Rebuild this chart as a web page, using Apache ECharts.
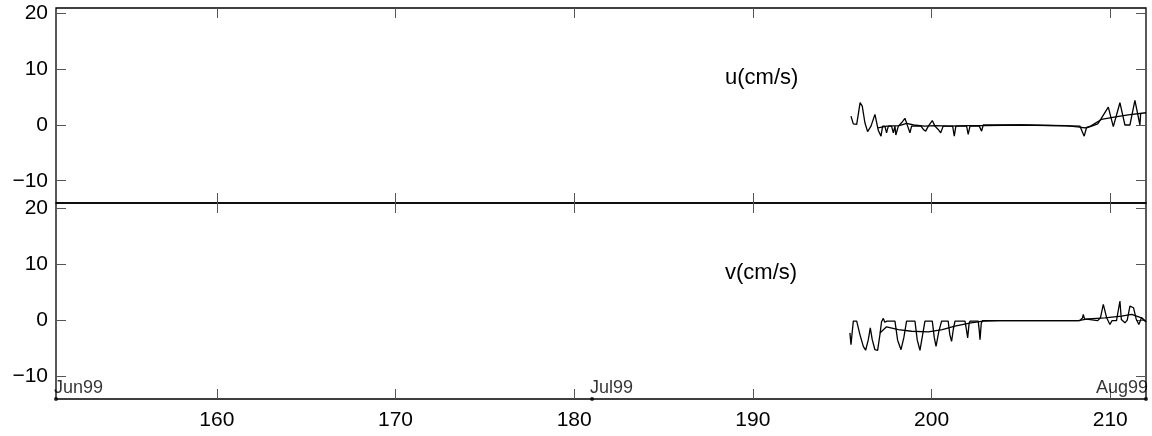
<!DOCTYPE html>
<html>
<head>
<meta charset="utf-8">
<script src="https://cdn.jsdelivr.net/npm/echarts@6/dist/echarts.min.js"></script>
<style>
html,body{margin:0;padding:0;background:#fff;}
#chart{width:1152px;height:436px;}
</style>
</head>
<body>
<div id="chart"></div>
<script>
// ---- data (yearday 1999, value in cm/s) ----
const xTicks = [160, 170, 180, 190, 200, 210];
const yTicks = [-10, 0, 10, 20];
const dateMarks = [[151, 'Jun99'], [181, 'Jul99'], [212, 'Aug99']];
const panelTitles = ['u(cm/s)', 'v(cm/s)'];

const uRaw = [[195.49,1.6],[195.62,0.2],[195.81,0.1],[196.0,4.0],[196.12,3.4],[196.27,0.4],[196.42,-1.2],[196.61,-0.2],[196.83,1.9],[197.02,-1.0],[197.17,-2.0],[197.26,-0.2],[197.39,-0.2],[197.48,-1.4],[197.58,-0.2],[197.76,-0.2],[197.86,-1.4],[197.95,-0.2],[198.0,-1.8],[198.14,-0.2],[198.32,0.4],[198.51,1.2],[198.66,-0.2],[198.79,-1.4],[198.88,-0.2],[199.41,-0.2],[199.54,-0.8],[199.67,-1.1],[199.82,-0.2],[200.04,0.8],[200.19,-0.2],[200.37,-0.8],[200.51,-1.4],[200.65,-0.2],[201.18,-0.2],[201.27,-2.0],[201.36,-0.2],[201.96,-0.2],[202.05,-1.7],[202.15,-0.2],[202.67,-0.2],[202.8,-1.1],[202.89,0.0],[205.0,0.0],[208.3,-0.2],[208.54,-2.0],[208.67,-0.5],[208.96,-0.2],[209.3,0.2],[209.5,1.2],[209.89,3.2],[210.17,-0.3],[210.54,4.0],[210.82,0.0],[211.1,0.0],[211.38,4.4],[211.66,0.0],[211.7,2.0]];
const uSmooth = [[197.0,-0.5],[197.5,-0.2],[198.2,-0.1],[198.6,0.3],[199.0,0.0],[199.6,-0.2],[200.2,-0.1],[201.0,-0.2],[202.0,-0.1],[203.0,-0.1],[205.0,0.0],[207.5,-0.1],[208.3,-0.4],[208.6,-0.5],[208.9,-0.2],[209.5,1.0],[210.3,1.45],[211.0,1.8],[212.0,2.2]];

const vRaw = [[195.43,-2.2],[195.49,-4.3],[195.62,-0.1],[195.81,-0.1],[195.99,-2.5],[196.18,-4.6],[196.31,-5.3],[196.46,-3.4],[196.57,-1.3],[196.68,-3.4],[196.83,-5.2],[196.98,-5.3],[197.11,-2.5],[197.2,-0.2],[197.3,0.4],[197.38,-0.3],[197.5,-0.1],[197.95,-0.1],[198.1,-3.5],[198.29,-5.2],[198.45,-3.0],[198.6,-0.1],[199.07,-0.1],[199.2,-3.5],[199.35,-5.3],[199.5,-2.5],[199.63,-0.1],[200.04,-0.1],[200.15,-3.0],[200.25,-4.6],[200.4,-2.0],[200.56,-0.1],[200.93,-0.1],[201.02,-2.5],[201.12,-3.7],[201.22,-1.5],[201.31,-0.1],[201.87,-0.1],[201.96,-1.8],[202.02,-3.1],[202.1,-0.5],[202.15,-0.1],[202.61,-0.1],[202.67,-1.8],[202.71,-3.4],[202.78,-0.5],[202.85,0.0],[208.3,0.0],[208.45,0.5],[208.49,1.1],[208.56,0.3],[208.65,0.0],[209.3,0.0],[209.45,0.5],[209.61,2.9],[209.8,0.5],[209.98,-0.7],[210.1,0.0],[210.35,0.0],[210.54,3.5],[210.62,0.2],[210.82,-0.4],[210.95,0.1],[211.1,2.6],[211.3,2.3],[211.45,0.3],[211.6,-0.7],[211.75,0.5],[212.0,-0.2]];
const vSmooth = [[197.11,-2.2],[197.48,-1.1],[198.14,-1.6],[198.88,-1.9],[199.82,-2.0],[200.6,-1.6],[201.3,-1.0],[202.2,-0.4],[202.9,-0.1],[203.8,0.0],[208.2,0.0],[208.77,0.3],[209.7,0.5],[210.63,0.8],[211.2,1.1],[211.75,0.5],[212.0,-0.2]];

// ---- chart ----
const FONT = 'Liberation Sans, Arial, Helvetica, sans-serif';
const XMIN = 151, XMAX = 212, YMIN = -14, YMAX = 21;
const tickStyle = {color: '#555', width: 1};
const fmt = v => String(v).replace('-', '\u2212');

function xAx(gi, pos, labels) {
  return {
    type: 'value', gridIndex: gi, position: pos, min: XMIN, max: XMAX,
    axisLine: {show: false, onZero: false}, splitLine: {show: false},
    axisTick: {show: true, inside: true, length: 10, lineStyle: tickStyle, customValues: xTicks},
    axisLabel: labels ? {show: true, customValues: xTicks, margin: 11, fontSize: 21, fontFamily: FONT, color: '#000'} : {show: false}
  };
}
function yAx(gi, pos, labels) {
  return {
    type: 'value', gridIndex: gi, position: pos, min: YMIN, max: YMAX,
    axisLine: {show: false, onZero: false}, splitLine: {show: false},
    axisTick: {show: true, inside: true, length: 10, lineStyle: tickStyle, customValues: yTicks},
    axisLabel: labels ? {show: true, customValues: yTicks, margin: 8, fontSize: 21, fontFamily: FONT, color: '#000', formatter: fmt, padding: [5, 0, 0, 0]} : {show: false}
  };
}
function line(data, xi, yi) {
  return {type: 'line', data: data, xAxisIndex: xi, yAxisIndex: yi, showSymbol: false, symbol: 'none',
    lineStyle: {color: '#000', width: 1.3}, animation: false, z: 3};
}

const chart = echarts.init(document.getElementById('chart'), null, {renderer: 'canvas'});
chart.setOption({
  animation: false,
  backgroundColor: '#fff',
  title: [
    {text: panelTitles[0], left: 725, top: 67, padding: 0, textStyle: {fontSize: 22, fontWeight: 'normal', fontFamily: FONT, color: '#000'}},
    {text: panelTitles[1], left: 725, top: 262, padding: 0, textStyle: {fontSize: 22, fontWeight: 'normal', fontFamily: FONT, color: '#000'}}
  ],
  grid: [
    {left: 56, top: 8, width: 1090, height: 195, show: true, borderColor: '#000', borderWidth: 1.3, backgroundColor: 'transparent'},
    {left: 56, top: 203, width: 1090, height: 196, show: true, borderColor: '#000', borderWidth: 1.3, backgroundColor: 'transparent'}
  ],
  xAxis: [xAx(0, 'bottom', false), xAx(0, 'top', false), xAx(1, 'bottom', true), xAx(1, 'top', false)],
  yAxis: [yAx(0, 'left', true), yAx(0, 'right', false), yAx(1, 'left', true), yAx(1, 'right', false)],
  series: [
    line(uRaw, 0, 0), line(uSmooth, 0, 0),
    line(vRaw, 2, 2), line(vSmooth, 2, 2),
    {
      type: 'scatter', xAxisIndex: 2, yAxisIndex: 2, clip: false, symbol: 'circle', symbolSize: 4,
      itemStyle: {color: '#000'}, z: 5,
      data: dateMarks.map((d, i) => ({
        value: [d[0], YMIN], name: d[1],
        label: {show: true, formatter: d[1], fontSize: 18, fontFamily: FONT, color: '#000',
          position: i === 2 ? [4, 0] : [0, 0], align: i === 2 ? 'right' : 'left', verticalAlign: 'bottom'}
      }))
    }
  ]
});
</script>
</body>
</html>
